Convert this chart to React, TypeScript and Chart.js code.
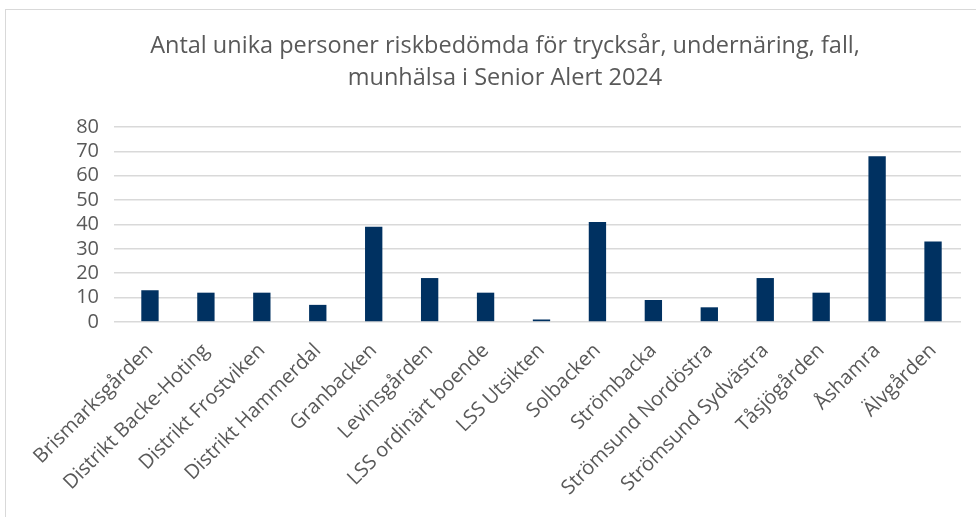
import React, { useEffect, useRef } from "react";
import { Chart, registerables } from "chart.js";

Chart.register(...registerables);

const categories = [
  "Brismarksgården",
  "Distrikt Backe-Hoting",
  "Distrikt Frostviken",
  "Distrikt Hammerdal",
  "Granbacken",
  "Levinsgården",
  "LSS ordinärt boende",
  "LSS Utsikten",
  "Solbacken",
  "Strömbacka",
  "Strömsund Nordöstra",
  "Strömsund Sydvästra",
  "Tåsjögården",
  "Åshamra",
  "Älvgården",
];

const values = [13, 12, 12, 7, 39, 18, 12, 1, 41, 9, 6, 18, 12, 68, 33];

const titleLines = [
  "Antal unika personer riskbedömda för trycksår, undernäring, fall,",
  "munhälsa i Senior Alert 2024",
];

const yMin = 0;
const yMax = 80;
const yStep = 10;

const FONT = "'Open Sans', sans-serif";

export default function App() {
  const ref = useRef<HTMLCanvasElement | null>(null);

  useEffect(() => {
    document.body.style.margin = "0";
    document.body.style.overflow = "hidden";
    let chart: Chart | null = null;
    let cancelled = false;
    const fontsReady = Promise.all([
      document.fonts.load("20px 'Open Sans'"),
      document.fonts.load("23.5px 'Open Sans'"),
    ]).catch(() => null);
    fontsReady.then(() => {
      if (cancelled) return;
      const canvas = ref.current;
      if (!canvas) return;
      chart = new Chart(canvas, {
        type: "bar",
        data: {
          labels: categories,
          datasets: [
            {
              data: values,
              backgroundColor: "#003161",
              borderWidth: 0,
              categoryPercentage: 1,
              barPercentage: 0.31,
              yAxisID: "y",
            },
          ],
        },
        options: {
          animation: false,
          responsive: false,
          layout: { padding: { left: 0, right: 0, top: 0, bottom: 8 } },
          plugins: {
            legend: { display: false },
            tooltip: { enabled: false },
            title: {
              display: true,
              text: titleLines,
              color: "#595959",
              font: { family: FONT, size: 23.5, weight: "normal", lineHeight: 1.36 },
              padding: { top: 30, bottom: 33 },
            },
          },
          scales: {
            x: {
              grid: { display: false },
              border: { display: false },
              ticks: {
                color: "#595959",
                font: { family: FONT, size: 20 },
                maxRotation: 45,
                minRotation: 45,
                autoSkip: false,
                padding: 9,
              },
            },
            y: {
              min: yMin,
              max: yMax,
              grid: { color: "#d9d9d9", lineWidth: 1.5 },
              border: { display: false },
              ticks: {
                stepSize: yStep,
                autoSkip: false,
                color: "#595959",
                font: { family: FONT, size: 20 },
                padding: 15,
              },
              afterFit: (scale: any) => {
                scale.width = 122;
              },
            },
            yRight: {
              position: "right",
              min: yMin,
              max: yMax,
              grid: { display: false },
              border: { display: false },
              ticks: { display: false },
              afterFit: (scale: any) => {
                scale.width = 49;
              },
            },
          },
        },
      });
    });
    return () => {
      cancelled = true;
      if (chart) chart.destroy();
    };
  }, []);

  return (
    <div style={{ position: "relative", width: 1010, height: 517 }}>
      <div
        style={{
          position: "absolute",
          left: 5,
          top: 9,
          width: 1100,
          height: 600,
          border: "1px solid #d9d9d9",
          boxSizing: "border-box",
        }}
      />
      <canvas ref={ref} width={1010} height={517} style={{ position: "absolute", left: 0, top: 0 }} />
    </div>
  );
}
